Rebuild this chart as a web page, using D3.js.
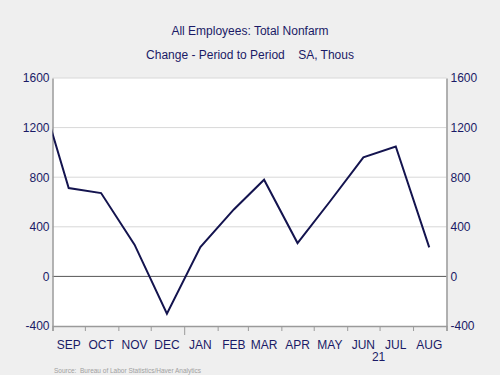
<!DOCTYPE html>
<html>
<head>
<meta charset="utf-8">
<script src="https://cdn.jsdelivr.net/npm/d3@7"></script>
<style>
  body { margin: 0; background: #efefef; }
  svg { display: block; font-family: "Liberation Sans", Arial, sans-serif; }
</style>
</head>
<body>
<div id="chart"></div>
<script>
// monthly payroll change, thousands (mid-month points)
const months = ["2020-08", "2020-09", "2020-10", "2020-11", "2020-12", "2021-01",
    "2021-02", "2021-03", "2021-04", "2021-05", "2021-06", "2021-07", "2021-08"];
const values = [1620, 712, 672, 256, -301, 236, 540, 780, 269, 604, 960, 1048, 234];
const monthLabels = ["SEP", "OCT", "NOV", "DEC", "JAN", "FEB", "MAR", "APR", "MAY", "JUN", "JUL", "AUG"];
const yTicks = [-400, 0, 400, 800, 1200, 1600];

const colors = {
    bg: "#efefef",
    text: "#1a1a66",
    line: "#14144f",
    grid: "#d8d8d8",
    axis: "#9a9a9a",
    zero: "#555555",
};

const width = 500;
const height = 375;
const margins = { top: 78, right: 53.5, bottom: 49, left: 52.5 };

const parse = d3.timeParse("%Y-%m");
const data = months.map((m, i) => {
    const d = parse(m);
    return { date: new Date(d.getFullYear(), d.getMonth(), 16), value: values[i] };
});

const svg = d3.select("#chart")
    .append("svg")
    .attr("width", width)
    .attr("height", height);

svg.append("rect")
    .attr("width", width)
    .attr("height", height)
    .attr("fill", colors.bg);

var x = d3.scaleTime()
    .domain([new Date(2020, 8, 1), new Date(2021, 8, 1)])
    .range([margins.left, width - margins.right]);
var y = d3.scaleLinear()
    .domain([-400, 1600])
    .range([height - margins.bottom, margins.top]);

// plot area
svg.append("rect")
    .attr("x", margins.left)
    .attr("y", margins.top)
    .attr("width", x.range()[1] - x.range()[0])
    .attr("height", y(-400) - y(1600))
    .attr("fill", "#fff");

// grid
svg.append("g")
    .selectAll("line")
    .data(yTicks.filter(d => d > 0))
    .join("line")
    .attr("x1", margins.left)
    .attr("x2", x.range()[1])
    .attr("y1", d => y(d))
    .attr("y2", d => y(d))
    .attr("stroke", colors.grid)
    .attr("stroke-width", 1);

svg.append("line")
    .attr("x1", margins.left)
    .attr("x2", x.range()[1])
    .attr("y1", y(0))
    .attr("y2", y(0))
    .attr("stroke", colors.zero)
    .attr("stroke-width", 1);

// axes
const fmt = d3.format("d");
var gy = svg.append("g")
    .attr("transform", `translate(${margins.left},0)`)
    .call(d3.axisLeft(y).tickValues(yTicks).tickFormat(d => String(d)).tickSize(0).tickSizeOuter(0));
var gy2 = svg.append("g")
    .attr("transform", `translate(${x.range()[1]},0)`)
    .call(d3.axisRight(y).tickValues(yTicks).tickFormat(d => String(d)).tickSize(0).tickSizeOuter(0));
[gy, gy2].forEach(g => {
    g.select(".domain").attr("stroke", colors.axis).attr("stroke-width", 1.5);
    g.selectAll("text")
        .attr("fill", colors.text)
        .attr("font-size", 12)
        .attr("font-family", "Liberation Sans, Arial, sans-serif");
});
gy.selectAll("text").attr("x", -3);
gy2.selectAll("text").attr("x", 4);

const monthStarts = d3.timeMonth.range(new Date(2020, 8, 1), new Date(2021, 8, 2));
var gx = svg.append("g")
    .attr("transform", `translate(0,${y(-400)})`)
    .call(d3.axisBottom(x).tickValues(monthStarts).tickFormat("").tickSizeOuter(0)
        .tickSize(5));
gx.select(".domain").attr("stroke", colors.axis).attr("stroke-width", 1.5);
gx.selectAll(".tick line")
    .attr("stroke", colors.axis)
    .attr("y2", d => d.getMonth() === 0 ? 9 : 5);

// month labels at mid-month
svg.append("g")
    .selectAll("text")
    .data(monthStarts.slice(0, 12))
    .join("text")
    .attr("x", (d, i) => x(new Date(d.getFullYear(), d.getMonth(), 16)))
    .attr("y", 349)
    .attr("text-anchor", "middle")
    .attr("fill", colors.text)
    .attr("font-size", 12)
    .text((d, i) => monthLabels[i]);

svg.append("text")
    .attr("x", x(new Date(2021, 6, 1)) - 1)
    .attr("y", 361)
    .attr("text-anchor", "middle")
    .attr("fill", colors.text)
    .attr("font-size", 12)
    .text("21");

// series
svg.append("clipPath")
    .attr("id", "clip")
    .append("rect")
    .attr("x", margins.left)
    .attr("y", 0)
    .attr("width", x.range()[1] - x.range()[0])
    .attr("height", height);

const line = d3.line()
    .x(d => x(d.date))
    .y(d => y(d.value));

svg.append("path")
    .datum(data)
    .attr("clip-path", "url(#clip)")
    .attr("d", line)
    .attr("fill", "none")
    .attr("stroke", colors.line)
    .attr("stroke-width", 2)
    .attr("stroke-linejoin", "miter");

// titles
svg.append("text")
    .attr("x", 250)
    .attr("y", 35)
    .attr("text-anchor", "middle")
    .attr("fill", colors.text)
    .attr("font-size", 12)
    .text("All Employees: Total Nonfarm");

svg.append("text")
    .attr("x", 250)
    .attr("y", 59)
    .attr("text-anchor", "middle")
    .attr("fill", colors.text)
    .attr("font-size", 12)
    .style("white-space", "pre")
    .text("Change - Period to Period    SA, Thous");

svg.append("text")
    .attr("x", 54)
    .attr("y", 373)
    .attr("fill", "#a0a0a0")
    .attr("font-size", 6.5)
    .style("white-space", "pre")
    .text("Source:  Bureau of Labor Statistics/Haver Analytics");
</script>
</body>
</html>
